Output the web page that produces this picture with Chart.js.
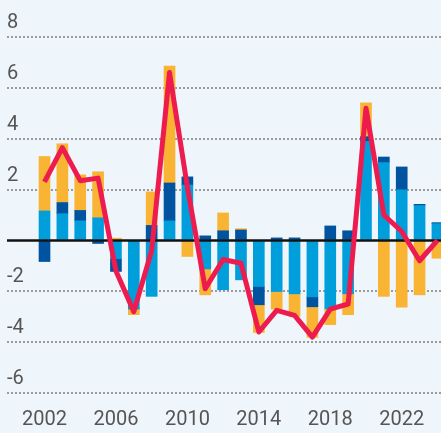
<!DOCTYPE html>
<html>
<head>
<meta charset="utf-8">
<script src="https://cdn.jsdelivr.net/npm/chart.js@4"></script>
<style>
  html, body { margin: 0; padding: 0; background: #EEF5FB; }
  #wrap { width: 441px; height: 433px; position: relative; }
</style>
</head>
<body>
<div id="wrap"><canvas id="chart"></canvas></div>
<script>
const years = [2002, 2003, 2004, 2005, 2006, 2007, 2008, 2009, 2010, 2011, 2012, 2013,
  2014, 2015, 2016, 2017, 2018, 2019, 2020, 2021, 2022, 2023, 2024];

// stacked components (light blue nearest zero, then dark blue, then orange)
const lightBlue = [1.16, 1.05, 0.77, 0.89, -0.72, -2.69, -2.20, 0.77, 2.18, -1.12, -1.94, -1.55,
  -1.81, -2.01, -2.10, -2.22, -2.69, -2.10, 3.89, 3.06, 1.99, 1.37, 0.66];
const darkBlue = [-0.83, 0.44, 0.41, -0.12, -0.50, 0, 0.59, 1.49, 0.32, 0.18, 0.38, 0.41,
  -0.72, 0.10, 0.10, -0.39, 0.57, 0.38, 0.19, 0.22, 0.90, 0.05, 0.04];
const orange = [2.14, 2.31, 1.40, 1.81, 0.09, -0.23, 1.32, 4.60, -0.63, -1.02, 0.70, 0.05,
  -1.09, -0.69, -0.89, -1.20, -0.62, -0.82, 1.33, -2.20, -2.62, -2.14, -0.70];

// red line
const total = [2.3, 3.65, 2.35, 2.45, -1.2, -2.8, -0.4, 6.6, 2.1, -1.9, -0.75, -0.9,
  -3.6, -2.75, -2.95, -3.8, -2.7, -2.5, 5.2, 1.0, 0.35, -0.8, 0.0];

const xTicks = [2002, 2006, 2010, 2014, 2018, 2022];
const yTicks = [-6, -4, -2, 0, 2, 4, 6, 8];

const zeroLine = {
  id: 'zeroLine',
  beforeDatasetDraw(chart, args) {
    if (args.meta.type !== 'line') return;
    const {ctx, chartArea, scales} = chart;
    const y = scales.y.getPixelForValue(0);
    ctx.save();
    ctx.strokeStyle = '#111';
    ctx.lineWidth = 2.5;
    ctx.beginPath();
    ctx.moveTo(chartArea.left, y);
    ctx.lineTo(chartArea.right, y);
    ctx.stroke();
    ctx.restore();
  }
};

const barOpts = { barThickness: 11, borderWidth: 0, stack: 'parts' };

new Chart(document.getElementById('chart'), {
  type: 'bar',
  data: {
    labels: years,
    datasets: [
      { label: 'a', data: lightBlue, backgroundColor: '#009FDB', ...barOpts },
      { label: 'b', data: darkBlue, backgroundColor: '#00539F', ...barOpts },
      { label: 'c', data: orange, backgroundColor: '#F8B432', ...barOpts },
      {
        type: 'line', label: 'total', data: total, stack: 'net', order: -1,
        borderColor: '#EE1B4E', borderWidth: 5, pointRadius: 0, tension: 0,
        borderJoinStyle: 'round', fill: false
      }
    ]
  },
  options: {
    responsive: true,
    maintainAspectRatio: false,
    animation: false,
    layout: { autoPadding: false, padding: { left: 7, right: 0, top: 37, bottom: 0 } },
    plugins: { legend: { display: false }, tooltip: { enabled: false } },
    scales: {
      x: {
        type: 'linear',
        stacked: true,
        offset: false,
        min: 1999.9,
        max: 2024.2,
        afterBuildTicks: (scale) => { scale.ticks = xTicks.map(v => ({ value: v })); },
        afterFit: (scale) => { scale.height = 40; },
        grid: { display: false, drawTicks: false },
        border: { display: false },
        ticks: {
          padding: 15,
          color: '#555',
          font: { family: 'Roboto', size: 20 },
          maxRotation: 0,
          autoSkip: false,
          callback: (v) => String(v)
        }
      },
      y: {
        stacked: true,
        min: -6,
        max: 8,
        afterBuildTicks: (scale) => { scale.ticks = yTicks.map(v => ({ value: v })); },
        grid: {
          drawTicks: false,
          lineWidth: 2,
          color: (c) => c.tick && c.tick.value === 0 ? 'rgba(0,0,0,0)' : '#9B9B9B'
        },
        border: { display: false, dash: [2, 2] },
        ticks: {
          mirror: true,
          padding: 0,
          labelOffset: -14,
          color: '#555',
          font: { family: 'Roboto', size: 20, lineHeight: 0.4 },
          callback: (v) => v === 0 ? '' : String(v)
        }
      }
    }
  },
  plugins: [zeroLine]
});
</script>
</body>
</html>
